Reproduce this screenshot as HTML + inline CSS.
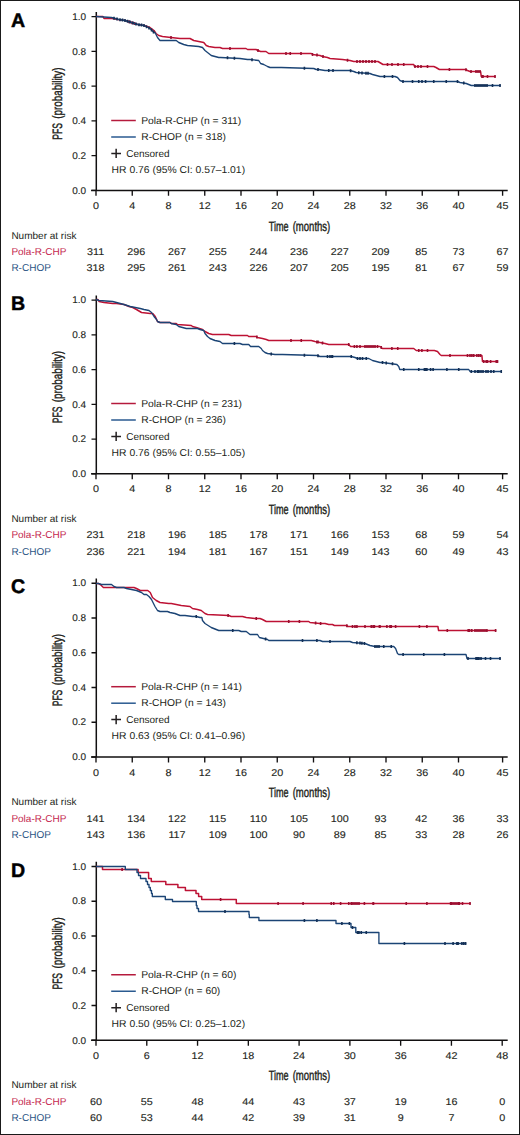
<!DOCTYPE html><html><head><meta charset="utf-8"><style>html,body{margin:0;padding:0;background:#fff;}svg{display:block;}text{font-family:"Liberation Sans",sans-serif;text-rendering:geometricPrecision;}</style></head><body>
<svg width="520" height="1135" viewBox="0 0 520 1135">
<rect x="0" y="0" width="520" height="1135" fill="#fff"/>
<text x="10.9" y="27" font-size="19.6" font-weight="bold" fill="#000" stroke="#000" stroke-width="0.45">A</text>
<path d="M96.3 12V191.1M91.1 190.4H507.7" stroke="#121011" stroke-width="1.5" fill="none"/>
<path d="M91.5 16.6H96M91.5 51.36H96M91.5 86.12H96M91.5 120.88H96M91.5 155.64H96M91.5 190.4H96" stroke="#121011" stroke-width="1.35" fill="none"/>
<text transform="translate(86.1 19.85) scale(1.02 1)" text-anchor="end" font-size="9.8" stroke="#231f20" stroke-width="0.12" fill="#231f20">1.0</text>
<text transform="translate(86.1 54.61) scale(1.02 1)" text-anchor="end" font-size="9.8" stroke="#231f20" stroke-width="0.12" fill="#231f20">0.8</text>
<text transform="translate(86.1 89.37) scale(1.02 1)" text-anchor="end" font-size="9.8" stroke="#231f20" stroke-width="0.12" fill="#231f20">0.6</text>
<text transform="translate(86.1 124.13) scale(1.02 1)" text-anchor="end" font-size="9.8" stroke="#231f20" stroke-width="0.12" fill="#231f20">0.4</text>
<text transform="translate(86.1 158.89) scale(1.02 1)" text-anchor="end" font-size="9.8" stroke="#231f20" stroke-width="0.12" fill="#231f20">0.2</text>
<text transform="translate(86.1 193.65) scale(1.02 1)" text-anchor="end" font-size="9.8" stroke="#231f20" stroke-width="0.12" fill="#231f20">0.0</text>
<path d="M96 190.4V195.8M132.25 190.4V195.8M168.5 190.4V195.8M204.75 190.4V195.8M241 190.4V195.8M277.25 190.4V195.8M313.5 190.4V195.8M349.75 190.4V195.8M386 190.4V195.8M422.25 190.4V195.8M458.5 190.4V195.8M502.6 190.4V195.8" stroke="#121011" stroke-width="1.35" fill="none"/>
<text transform="translate(96 209) scale(1.1 1)" text-anchor="middle" font-size="9.8" stroke="#231f20" stroke-width="0.12" fill="#231f20">0</text>
<text transform="translate(132.25 209) scale(1.1 1)" text-anchor="middle" font-size="9.8" stroke="#231f20" stroke-width="0.12" fill="#231f20">4</text>
<text transform="translate(168.5 209) scale(1.1 1)" text-anchor="middle" font-size="9.8" stroke="#231f20" stroke-width="0.12" fill="#231f20">8</text>
<text transform="translate(204.75 209) scale(1.1 1)" text-anchor="middle" font-size="9.8" stroke="#231f20" stroke-width="0.12" fill="#231f20">12</text>
<text transform="translate(241 209) scale(1.1 1)" text-anchor="middle" font-size="9.8" stroke="#231f20" stroke-width="0.12" fill="#231f20">16</text>
<text transform="translate(277.25 209) scale(1.1 1)" text-anchor="middle" font-size="9.8" stroke="#231f20" stroke-width="0.12" fill="#231f20">20</text>
<text transform="translate(313.5 209) scale(1.1 1)" text-anchor="middle" font-size="9.8" stroke="#231f20" stroke-width="0.12" fill="#231f20">24</text>
<text transform="translate(349.75 209) scale(1.1 1)" text-anchor="middle" font-size="9.8" stroke="#231f20" stroke-width="0.12" fill="#231f20">28</text>
<text transform="translate(386 209) scale(1.1 1)" text-anchor="middle" font-size="9.8" stroke="#231f20" stroke-width="0.12" fill="#231f20">32</text>
<text transform="translate(422.25 209) scale(1.1 1)" text-anchor="middle" font-size="9.8" stroke="#231f20" stroke-width="0.12" fill="#231f20">36</text>
<text transform="translate(458.5 209) scale(1.1 1)" text-anchor="middle" font-size="9.8" stroke="#231f20" stroke-width="0.12" fill="#231f20">40</text>
<text transform="translate(502.6 209) scale(1.1 1)" text-anchor="middle" font-size="9.8" stroke="#231f20" stroke-width="0.12" fill="#231f20">45</text>
<text x="268.8" y="230.6" font-size="13.6" fill="#231f20" stroke="#231f20" stroke-width="0.42" textLength="19.8" lengthAdjust="spacingAndGlyphs">Time</text>
<text x="292.7" y="230.6" font-size="13.6" fill="#231f20" stroke="#231f20" stroke-width="0.42" textLength="37.6" lengthAdjust="spacingAndGlyphs">(months)</text>
<text transform="translate(62.4 139.7) rotate(-90)" x="0" y="0" font-size="13.6" fill="#231f20" stroke="#231f20" stroke-width="0.42" textLength="16.6" lengthAdjust="spacingAndGlyphs">PFS</text>
<text transform="translate(62.4 118.7) rotate(-90)" x="0" y="0" font-size="13.6" fill="#231f20" stroke="#231f20" stroke-width="0.42" textLength="51.2" lengthAdjust="spacingAndGlyphs">(probability)</text>
<path d="M111.2 120.5H135.8" stroke="#b51a3c" stroke-width="1.5"/>
<text transform="translate(141.2 123.5) scale(1.03 1)" font-size="10" fill="#231f20">Pola-R-CHP (n = 311)</text>
<path d="M111.2 137H135.8" stroke="#2a5a90" stroke-width="1.5"/>
<text transform="translate(141.2 139.6) scale(1.03 1)" font-size="10" fill="#231f20">R-CHOP (n = 318)</text>
<path d="M111.3 153.4H121M116.15 148.7V158.1" stroke="#231f20" stroke-width="1.5"/>
<text x="126.2" y="156.6" font-size="10" fill="#231f20">Censored</text>
<text transform="translate(111.6 172.75) scale(1.035 1)" font-size="10" fill="#231f20">HR 0.76 (95% CI: 0.57–1.01)</text>
<text x="11.4" y="238.5" font-size="10" fill="#231f20">Number at risk</text>
<text x="11.4" y="254.9" font-size="10" fill="#c5284f">Pola-R-CHP</text>
<text x="11.4" y="271.2" font-size="10" fill="#2d5584">R-CHOP</text>
<text transform="translate(95.6 254.9) scale(1.1 1)" text-anchor="middle" font-size="9.8" stroke="#231f20" stroke-width="0.12" fill="#231f20">311</text>
<text transform="translate(95.6 271.2) scale(1.1 1)" text-anchor="middle" font-size="9.8" stroke="#231f20" stroke-width="0.12" fill="#231f20">318</text>
<text transform="translate(136.3 254.9) scale(1.1 1)" text-anchor="middle" font-size="9.8" stroke="#231f20" stroke-width="0.12" fill="#231f20">296</text>
<text transform="translate(136.3 271.2) scale(1.1 1)" text-anchor="middle" font-size="9.8" stroke="#231f20" stroke-width="0.12" fill="#231f20">295</text>
<text transform="translate(177 254.9) scale(1.1 1)" text-anchor="middle" font-size="9.8" stroke="#231f20" stroke-width="0.12" fill="#231f20">267</text>
<text transform="translate(177 271.2) scale(1.1 1)" text-anchor="middle" font-size="9.8" stroke="#231f20" stroke-width="0.12" fill="#231f20">261</text>
<text transform="translate(217.7 254.9) scale(1.1 1)" text-anchor="middle" font-size="9.8" stroke="#231f20" stroke-width="0.12" fill="#231f20">255</text>
<text transform="translate(217.7 271.2) scale(1.1 1)" text-anchor="middle" font-size="9.8" stroke="#231f20" stroke-width="0.12" fill="#231f20">243</text>
<text transform="translate(258.4 254.9) scale(1.1 1)" text-anchor="middle" font-size="9.8" stroke="#231f20" stroke-width="0.12" fill="#231f20">244</text>
<text transform="translate(258.4 271.2) scale(1.1 1)" text-anchor="middle" font-size="9.8" stroke="#231f20" stroke-width="0.12" fill="#231f20">226</text>
<text transform="translate(299.1 254.9) scale(1.1 1)" text-anchor="middle" font-size="9.8" stroke="#231f20" stroke-width="0.12" fill="#231f20">236</text>
<text transform="translate(299.1 271.2) scale(1.1 1)" text-anchor="middle" font-size="9.8" stroke="#231f20" stroke-width="0.12" fill="#231f20">207</text>
<text transform="translate(339.8 254.9) scale(1.1 1)" text-anchor="middle" font-size="9.8" stroke="#231f20" stroke-width="0.12" fill="#231f20">227</text>
<text transform="translate(339.8 271.2) scale(1.1 1)" text-anchor="middle" font-size="9.8" stroke="#231f20" stroke-width="0.12" fill="#231f20">205</text>
<text transform="translate(380.5 254.9) scale(1.1 1)" text-anchor="middle" font-size="9.8" stroke="#231f20" stroke-width="0.12" fill="#231f20">209</text>
<text transform="translate(380.5 271.2) scale(1.1 1)" text-anchor="middle" font-size="9.8" stroke="#231f20" stroke-width="0.12" fill="#231f20">195</text>
<text transform="translate(421.2 254.9) scale(1.1 1)" text-anchor="middle" font-size="9.8" stroke="#231f20" stroke-width="0.12" fill="#231f20">85</text>
<text transform="translate(421.2 271.2) scale(1.1 1)" text-anchor="middle" font-size="9.8" stroke="#231f20" stroke-width="0.12" fill="#231f20">81</text>
<text transform="translate(458.6 254.9) scale(1.1 1)" text-anchor="middle" font-size="9.8" stroke="#231f20" stroke-width="0.12" fill="#231f20">73</text>
<text transform="translate(458.6 271.2) scale(1.1 1)" text-anchor="middle" font-size="9.8" stroke="#231f20" stroke-width="0.12" fill="#231f20">67</text>
<text transform="translate(502.6 254.9) scale(1.1 1)" text-anchor="middle" font-size="9.8" stroke="#231f20" stroke-width="0.12" fill="#231f20">67</text>
<text transform="translate(502.6 271.2) scale(1.1 1)" text-anchor="middle" font-size="9.8" stroke="#231f20" stroke-width="0.12" fill="#231f20">59</text>
<path d="M96 16.5 L103 16.5 L104 18.5 L112 18.5 L118 19.5 L125 20.5 L131 22.5 L138 24.5 L144 25.5 L150 27.5 L154 30.5 L156 33.5 L158.75 35.5 L162.5 36.5 L171 37.5 L180 38.5 L190 38.5 L193.75 40.5 L198.75 41.5 L203.75 42.5 L206.25 45.5 L208.75 46.5 L215 47.5 L220 47.5 L222.5 48.5 L246 48.5 L247.5 49.5 L256 49.5 L258 50.5 L260.6 51.5 L266 51.5 L268.75 53.5 L311 53.5 L311.25 53.5 L312.5 54.5 L320 55.5 L322.5 56.5 L327.5 57.5 L330 58.5 L342.5 59.5 L350 60.5 L353.75 61.5 L378 61.5 L383 64.5 L413.75 64.5 L414.5 66.5 L433.75 66.5 L436 67.5 L439.4 69.5 L465.6 69.5 L467.5 70.5 L470 71.5 L480.6 71.5 L481.25 76.5 L495.6 76.5" stroke="#bd1234" stroke-width="1.5" fill="none" stroke-linejoin="round"/>
<path d="M129 20.33V23.33M132 21.29V24.29M134.5 22V25M171 36V39M230 47V50M258 49V52M286 52V55M290.25 52V55M301 52V55M312.5 53V56M317 53.6V56.6M323 55.1V58.1M347.5 58.67V61.67M357 60V63M360 60V63M363 60V63M366 60V63M369 60V63M372 60V63M375 60V63M387.5 63V66M392 63V66M398 63V66M403.75 63V66M415 65V68M418 65V68M421 65V68M427.5 65V68M449.4 68V71M466 68.21V71.21M471 70V73M476 70V73M478 70V73M480 70V73M482 75V78M483 75V78M487.5 75V78M495 75V78" stroke="#9a0f30" stroke-width="1.6" fill="none"/>
<path d="M96 16.5 L111.5 17.5 L119 19.5 L125 20.5 L131.5 22.5 L137.75 24.5 L144 25.5 L150 28.5 L154 32.5 L155 32.5 L157.5 37.5 L160 40.5 L167.5 40.5 L176.25 40.5 L178.75 42.5 L183.75 44.5 L187.5 45.5 L198.75 46.5 L202.5 47.5 L205 50.5 L208.75 53.5 L211.25 55.5 L215 56.5 L218.75 57.5 L220.6 57.5 L240 58.5 L247.5 59.5 L250 59.5 L258.75 60.5 L260.6 63.5 L263.75 64.5 L267.5 66.5 L270 67.5 L275 67.5 L281.25 67.5 L313.75 68.5 L316.25 69.5 L318.75 69.5 L325 70.5 L326.25 70.5 L350 70.5 L353.75 71.5 L356.25 72.5 L370 73.5 L372.5 74.5 L376.25 75.5 L380 76.5 L385 76.5 L395 76.5 L397.5 77.5 L400 80.5 L402.5 81.5 L457.5 81.5 L460 82.5 L466.25 83.5 L468.75 84.5 L471.25 85.5 L500.6 85.5" stroke="#1b4475" stroke-width="1.35" fill="none" stroke-linejoin="round"/>
<path d="M114 16.67V19.67M117 17.47V20.47M120 18.17V21.17M122.5 18.58V21.58M125 19V22M127.5 19.77V22.77M130 20.54V23.54M133 21.48V24.48M136 22.44V25.44M139 23.2V26.2M141.5 23.6V26.6M144 24V27M146.5 25.25V28.25M149 26.5V29.5M151.5 28.5V31.5M153.5 30.5V33.5M227.5 56.36V59.36M234.4 56.71V59.71M252 58.23V61.23M304.4 66.71V69.71M318 68V71M328.75 69V72M333 69V72M350.6 69.16V72.16M358.75 71.18V74.18M362 71.42V74.42M366 71.71V74.71M368 71.85V74.85M384.4 75V78M392.5 75V78M403 80V83M412.5 80V83M418.75 80V83M422 80V83M425.6 80V83M433.75 80V83M446.25 80V83M457.5 80V83M463.75 81.6V84.6M475 84V87M477 84V87M479 84V87M481 84V87M483 84V87M485 84V87M487 84V87M492.5 84V87M500 84V87" stroke="#132f55" stroke-width="1.6" fill="none"/>
<text x="10.9" y="310.25" font-size="19.6" font-weight="bold" fill="#000" stroke="#000" stroke-width="0.45">B</text>
<path d="M96.3 295.45V474.55M91.1 473.85H507.7" stroke="#121011" stroke-width="1.5" fill="none"/>
<path d="M91.5 300.05H96M91.5 334.81H96M91.5 369.57H96M91.5 404.33H96M91.5 439.09H96M91.5 473.85H96" stroke="#121011" stroke-width="1.35" fill="none"/>
<text transform="translate(86.1 303.3) scale(1.02 1)" text-anchor="end" font-size="9.8" stroke="#231f20" stroke-width="0.12" fill="#231f20">1.0</text>
<text transform="translate(86.1 338.06) scale(1.02 1)" text-anchor="end" font-size="9.8" stroke="#231f20" stroke-width="0.12" fill="#231f20">0.8</text>
<text transform="translate(86.1 372.82) scale(1.02 1)" text-anchor="end" font-size="9.8" stroke="#231f20" stroke-width="0.12" fill="#231f20">0.6</text>
<text transform="translate(86.1 407.58) scale(1.02 1)" text-anchor="end" font-size="9.8" stroke="#231f20" stroke-width="0.12" fill="#231f20">0.4</text>
<text transform="translate(86.1 442.34) scale(1.02 1)" text-anchor="end" font-size="9.8" stroke="#231f20" stroke-width="0.12" fill="#231f20">0.2</text>
<text transform="translate(86.1 477.1) scale(1.02 1)" text-anchor="end" font-size="9.8" stroke="#231f20" stroke-width="0.12" fill="#231f20">0.0</text>
<path d="M96 473.85V479.25M132.25 473.85V479.25M168.5 473.85V479.25M204.75 473.85V479.25M241 473.85V479.25M277.25 473.85V479.25M313.5 473.85V479.25M349.75 473.85V479.25M386 473.85V479.25M422.25 473.85V479.25M458.5 473.85V479.25M502.6 473.85V479.25" stroke="#121011" stroke-width="1.35" fill="none"/>
<text transform="translate(96 492.45) scale(1.1 1)" text-anchor="middle" font-size="9.8" stroke="#231f20" stroke-width="0.12" fill="#231f20">0</text>
<text transform="translate(132.25 492.45) scale(1.1 1)" text-anchor="middle" font-size="9.8" stroke="#231f20" stroke-width="0.12" fill="#231f20">4</text>
<text transform="translate(168.5 492.45) scale(1.1 1)" text-anchor="middle" font-size="9.8" stroke="#231f20" stroke-width="0.12" fill="#231f20">8</text>
<text transform="translate(204.75 492.45) scale(1.1 1)" text-anchor="middle" font-size="9.8" stroke="#231f20" stroke-width="0.12" fill="#231f20">12</text>
<text transform="translate(241 492.45) scale(1.1 1)" text-anchor="middle" font-size="9.8" stroke="#231f20" stroke-width="0.12" fill="#231f20">16</text>
<text transform="translate(277.25 492.45) scale(1.1 1)" text-anchor="middle" font-size="9.8" stroke="#231f20" stroke-width="0.12" fill="#231f20">20</text>
<text transform="translate(313.5 492.45) scale(1.1 1)" text-anchor="middle" font-size="9.8" stroke="#231f20" stroke-width="0.12" fill="#231f20">24</text>
<text transform="translate(349.75 492.45) scale(1.1 1)" text-anchor="middle" font-size="9.8" stroke="#231f20" stroke-width="0.12" fill="#231f20">28</text>
<text transform="translate(386 492.45) scale(1.1 1)" text-anchor="middle" font-size="9.8" stroke="#231f20" stroke-width="0.12" fill="#231f20">32</text>
<text transform="translate(422.25 492.45) scale(1.1 1)" text-anchor="middle" font-size="9.8" stroke="#231f20" stroke-width="0.12" fill="#231f20">36</text>
<text transform="translate(458.5 492.45) scale(1.1 1)" text-anchor="middle" font-size="9.8" stroke="#231f20" stroke-width="0.12" fill="#231f20">40</text>
<text transform="translate(502.6 492.45) scale(1.1 1)" text-anchor="middle" font-size="9.8" stroke="#231f20" stroke-width="0.12" fill="#231f20">45</text>
<text x="268.8" y="514.05" font-size="13.6" fill="#231f20" stroke="#231f20" stroke-width="0.42" textLength="19.8" lengthAdjust="spacingAndGlyphs">Time</text>
<text x="292.7" y="514.05" font-size="13.6" fill="#231f20" stroke="#231f20" stroke-width="0.42" textLength="37.6" lengthAdjust="spacingAndGlyphs">(months)</text>
<text transform="translate(62.4 423.15) rotate(-90)" x="0" y="0" font-size="13.6" fill="#231f20" stroke="#231f20" stroke-width="0.42" textLength="16.6" lengthAdjust="spacingAndGlyphs">PFS</text>
<text transform="translate(62.4 402.15) rotate(-90)" x="0" y="0" font-size="13.6" fill="#231f20" stroke="#231f20" stroke-width="0.42" textLength="51.2" lengthAdjust="spacingAndGlyphs">(probability)</text>
<path d="M111.2 403.5H135.8" stroke="#b51a3c" stroke-width="1.5"/>
<text transform="translate(141.2 406.5) scale(1.03 1)" font-size="10" fill="#231f20">Pola-R-CHP (n = 231)</text>
<path d="M111.2 420H135.8" stroke="#2a5a90" stroke-width="1.5"/>
<text transform="translate(141.2 422.6) scale(1.03 1)" font-size="10" fill="#231f20">R-CHOP (n = 236)</text>
<path d="M111.3 436.4H121M116.15 431.7V441.1" stroke="#231f20" stroke-width="1.5"/>
<text x="126.2" y="439.6" font-size="10" fill="#231f20">Censored</text>
<text transform="translate(111.6 455.75) scale(1.035 1)" font-size="10" fill="#231f20">HR 0.76 (95% CI: 0.55–1.05)</text>
<text x="11.4" y="521.95" font-size="10" fill="#231f20">Number at risk</text>
<text x="11.4" y="538.35" font-size="10" fill="#c5284f">Pola-R-CHP</text>
<text x="11.4" y="554.65" font-size="10" fill="#2d5584">R-CHOP</text>
<text transform="translate(95.6 538.35) scale(1.1 1)" text-anchor="middle" font-size="9.8" stroke="#231f20" stroke-width="0.12" fill="#231f20">231</text>
<text transform="translate(95.6 554.65) scale(1.1 1)" text-anchor="middle" font-size="9.8" stroke="#231f20" stroke-width="0.12" fill="#231f20">236</text>
<text transform="translate(136.3 538.35) scale(1.1 1)" text-anchor="middle" font-size="9.8" stroke="#231f20" stroke-width="0.12" fill="#231f20">218</text>
<text transform="translate(136.3 554.65) scale(1.1 1)" text-anchor="middle" font-size="9.8" stroke="#231f20" stroke-width="0.12" fill="#231f20">221</text>
<text transform="translate(177 538.35) scale(1.1 1)" text-anchor="middle" font-size="9.8" stroke="#231f20" stroke-width="0.12" fill="#231f20">196</text>
<text transform="translate(177 554.65) scale(1.1 1)" text-anchor="middle" font-size="9.8" stroke="#231f20" stroke-width="0.12" fill="#231f20">194</text>
<text transform="translate(217.7 538.35) scale(1.1 1)" text-anchor="middle" font-size="9.8" stroke="#231f20" stroke-width="0.12" fill="#231f20">185</text>
<text transform="translate(217.7 554.65) scale(1.1 1)" text-anchor="middle" font-size="9.8" stroke="#231f20" stroke-width="0.12" fill="#231f20">181</text>
<text transform="translate(258.4 538.35) scale(1.1 1)" text-anchor="middle" font-size="9.8" stroke="#231f20" stroke-width="0.12" fill="#231f20">178</text>
<text transform="translate(258.4 554.65) scale(1.1 1)" text-anchor="middle" font-size="9.8" stroke="#231f20" stroke-width="0.12" fill="#231f20">167</text>
<text transform="translate(299.1 538.35) scale(1.1 1)" text-anchor="middle" font-size="9.8" stroke="#231f20" stroke-width="0.12" fill="#231f20">171</text>
<text transform="translate(299.1 554.65) scale(1.1 1)" text-anchor="middle" font-size="9.8" stroke="#231f20" stroke-width="0.12" fill="#231f20">151</text>
<text transform="translate(339.8 538.35) scale(1.1 1)" text-anchor="middle" font-size="9.8" stroke="#231f20" stroke-width="0.12" fill="#231f20">166</text>
<text transform="translate(339.8 554.65) scale(1.1 1)" text-anchor="middle" font-size="9.8" stroke="#231f20" stroke-width="0.12" fill="#231f20">149</text>
<text transform="translate(380.5 538.35) scale(1.1 1)" text-anchor="middle" font-size="9.8" stroke="#231f20" stroke-width="0.12" fill="#231f20">153</text>
<text transform="translate(380.5 554.65) scale(1.1 1)" text-anchor="middle" font-size="9.8" stroke="#231f20" stroke-width="0.12" fill="#231f20">143</text>
<text transform="translate(421.2 538.35) scale(1.1 1)" text-anchor="middle" font-size="9.8" stroke="#231f20" stroke-width="0.12" fill="#231f20">68</text>
<text transform="translate(421.2 554.65) scale(1.1 1)" text-anchor="middle" font-size="9.8" stroke="#231f20" stroke-width="0.12" fill="#231f20">60</text>
<text transform="translate(458.6 538.35) scale(1.1 1)" text-anchor="middle" font-size="9.8" stroke="#231f20" stroke-width="0.12" fill="#231f20">59</text>
<text transform="translate(458.6 554.65) scale(1.1 1)" text-anchor="middle" font-size="9.8" stroke="#231f20" stroke-width="0.12" fill="#231f20">49</text>
<text transform="translate(502.6 538.35) scale(1.1 1)" text-anchor="middle" font-size="9.8" stroke="#231f20" stroke-width="0.12" fill="#231f20">54</text>
<text transform="translate(502.6 554.65) scale(1.1 1)" text-anchor="middle" font-size="9.8" stroke="#231f20" stroke-width="0.12" fill="#231f20">43</text>
<path d="M96 299.5 L98 299.5 L99 301.5 L104 302.5 L112.75 303.5 L116.5 303.5 L124 304.5 L129 306.5 L132.75 307.5 L136.5 309.5 L141.5 312.5 L150.25 313.5 L152.75 313.5 L155.25 316.5 L157.5 321.5 L160 322.5 L170 322.5 L171.25 323.5 L176.25 323.5 L177.5 324.5 L191.25 325.5 L192.5 326.5 L196.25 327.5 L202.5 329.5 L205 331.5 L208.75 333.5 L212.5 334.5 L220 334.5 L228.75 334.5 L231.25 335.5 L247.5 335.5 L248.75 336.5 L256.25 336.5 L257.5 337.5 L262.5 338.5 L266.25 339.5 L268.75 340.5 L311.25 340.5 L315 341.5 L320 342.5 L325 343.5 L328.75 344.5 L333.75 344.5 L348.75 344.5 L350.6 346.5 L352.5 346.5 L380 346.5 L382.5 348.5 L390 348.5 L413.75 348.5 L416.25 350.5 L434.4 350.5 L437.5 351.5 L440 354.5 L441.25 355.5 L481.9 355.5 L482.5 361.5 L498.1 361.5" stroke="#bd1234" stroke-width="1.5" fill="none" stroke-linejoin="round"/>
<path d="M256.9 335.52V338.52M291 339V342M301.25 339V342M316.9 340.38V343.38M318 340.6V343.6M322.5 341.5V344.5M348.75 343V346M354.4 345V348M356.9 345V348M360 345V348M365 345V348M367 345V348M369 345V348M371 345V348M373 345V348M375 345V348M377.5 345V348M381.25 346V349M391.9 347V350M397.75 347V350M418.75 349V352M421.9 349V352M427.5 349V352M450 354V357M467.5 354V357M470 354V357M471.9 354V357M473.75 354V357M476.9 354V357M478.75 354V357M480.6 354V357M483.75 360V363M486.25 360V363M487.5 360V363M490.6 360V363M496.25 360V363M497.5 360V363" stroke="#9a0f30" stroke-width="1.6" fill="none"/>
<path d="M96 299.5 L99 300.5 L112.75 301.5 L116.5 302.5 L124 304.5 L130.25 306.5 L135.25 307.5 L140.25 308.5 L144 309.5 L149 310.5 L151.5 312.5 L154 316.5 L156.5 319.5 L157.5 321.5 L160 322.5 L170 322.5 L171.25 323.5 L176.25 324.5 L178.75 326.5 L182.5 327.5 L186.25 328.5 L195 328.5 L197.5 328.5 L200 329.5 L203.75 330.5 L205 333.5 L207.5 336.5 L210 338.5 L212.5 339.5 L215 340.5 L220 341.5 L222.5 343.5 L240 343.5 L242.5 344.5 L248.75 344.5 L250.6 346.5 L252.5 346.5 L258.75 346.5 L261.25 348.5 L262.5 350.5 L265 352.5 L267.5 353.5 L275 354.5 L282.5 354.5 L317.5 355.5 L320 356.5 L335 356.5 L351.25 356.5 L355 357.5 L357.5 358.5 L365 358.5 L368.75 358.5 L372.5 360.5 L376.25 361.5 L380 362.5 L382.5 362.5 L390 363.5 L396.9 364.5 L398.75 366.5 L399.75 369.5 L468.75 369.5 L470 371.5 L501.25 371.5" stroke="#1b4475" stroke-width="1.35" fill="none" stroke-linejoin="round"/>
<path d="M234.4 342V345M271.25 352.5V355.5M304.4 353.63V356.63M318 354.2V357.2M327.5 355V358M330 355V358M332.5 355V358M331.9 355V358M351.25 355V358M357.5 357V360M360 357V360M362.5 357V360M366.25 357V360M382.5 361V364M386.25 361.5V364.5M392.5 362.36V365.36M403.75 368V371M418.75 368V371M424.4 368V371M425.6 368V371M426.9 368V371M430.6 368V371M433.1 368V371M446.9 368V371M458.75 368V371M471.25 370V373M475 370V373M477.5 370V373M479 370V373M481 370V373M483 370V373M486 370V373M488 370V373M491 370V373M493.75 370V373M501.25 370V373" stroke="#132f55" stroke-width="1.6" fill="none"/>
<text x="10.9" y="593.4" font-size="19.6" font-weight="bold" fill="#000" stroke="#000" stroke-width="0.45">C</text>
<path d="M96.3 578.6V757.7M91.1 757H507.7" stroke="#121011" stroke-width="1.5" fill="none"/>
<path d="M91.5 583.2H96M91.5 617.96H96M91.5 652.72H96M91.5 687.48H96M91.5 722.24H96M91.5 757H96" stroke="#121011" stroke-width="1.35" fill="none"/>
<text transform="translate(86.1 586.45) scale(1.02 1)" text-anchor="end" font-size="9.8" stroke="#231f20" stroke-width="0.12" fill="#231f20">1.0</text>
<text transform="translate(86.1 621.21) scale(1.02 1)" text-anchor="end" font-size="9.8" stroke="#231f20" stroke-width="0.12" fill="#231f20">0.8</text>
<text transform="translate(86.1 655.97) scale(1.02 1)" text-anchor="end" font-size="9.8" stroke="#231f20" stroke-width="0.12" fill="#231f20">0.6</text>
<text transform="translate(86.1 690.73) scale(1.02 1)" text-anchor="end" font-size="9.8" stroke="#231f20" stroke-width="0.12" fill="#231f20">0.4</text>
<text transform="translate(86.1 725.49) scale(1.02 1)" text-anchor="end" font-size="9.8" stroke="#231f20" stroke-width="0.12" fill="#231f20">0.2</text>
<text transform="translate(86.1 760.25) scale(1.02 1)" text-anchor="end" font-size="9.8" stroke="#231f20" stroke-width="0.12" fill="#231f20">0.0</text>
<path d="M96 757V762.4M132.25 757V762.4M168.5 757V762.4M204.75 757V762.4M241 757V762.4M277.25 757V762.4M313.5 757V762.4M349.75 757V762.4M386 757V762.4M422.25 757V762.4M458.5 757V762.4M502.6 757V762.4" stroke="#121011" stroke-width="1.35" fill="none"/>
<text transform="translate(96 775.6) scale(1.1 1)" text-anchor="middle" font-size="9.8" stroke="#231f20" stroke-width="0.12" fill="#231f20">0</text>
<text transform="translate(132.25 775.6) scale(1.1 1)" text-anchor="middle" font-size="9.8" stroke="#231f20" stroke-width="0.12" fill="#231f20">4</text>
<text transform="translate(168.5 775.6) scale(1.1 1)" text-anchor="middle" font-size="9.8" stroke="#231f20" stroke-width="0.12" fill="#231f20">8</text>
<text transform="translate(204.75 775.6) scale(1.1 1)" text-anchor="middle" font-size="9.8" stroke="#231f20" stroke-width="0.12" fill="#231f20">12</text>
<text transform="translate(241 775.6) scale(1.1 1)" text-anchor="middle" font-size="9.8" stroke="#231f20" stroke-width="0.12" fill="#231f20">16</text>
<text transform="translate(277.25 775.6) scale(1.1 1)" text-anchor="middle" font-size="9.8" stroke="#231f20" stroke-width="0.12" fill="#231f20">20</text>
<text transform="translate(313.5 775.6) scale(1.1 1)" text-anchor="middle" font-size="9.8" stroke="#231f20" stroke-width="0.12" fill="#231f20">24</text>
<text transform="translate(349.75 775.6) scale(1.1 1)" text-anchor="middle" font-size="9.8" stroke="#231f20" stroke-width="0.12" fill="#231f20">28</text>
<text transform="translate(386 775.6) scale(1.1 1)" text-anchor="middle" font-size="9.8" stroke="#231f20" stroke-width="0.12" fill="#231f20">32</text>
<text transform="translate(422.25 775.6) scale(1.1 1)" text-anchor="middle" font-size="9.8" stroke="#231f20" stroke-width="0.12" fill="#231f20">36</text>
<text transform="translate(458.5 775.6) scale(1.1 1)" text-anchor="middle" font-size="9.8" stroke="#231f20" stroke-width="0.12" fill="#231f20">40</text>
<text transform="translate(502.6 775.6) scale(1.1 1)" text-anchor="middle" font-size="9.8" stroke="#231f20" stroke-width="0.12" fill="#231f20">45</text>
<text x="268.8" y="797.2" font-size="13.6" fill="#231f20" stroke="#231f20" stroke-width="0.42" textLength="19.8" lengthAdjust="spacingAndGlyphs">Time</text>
<text x="292.7" y="797.2" font-size="13.6" fill="#231f20" stroke="#231f20" stroke-width="0.42" textLength="37.6" lengthAdjust="spacingAndGlyphs">(months)</text>
<text transform="translate(62.4 706.3) rotate(-90)" x="0" y="0" font-size="13.6" fill="#231f20" stroke="#231f20" stroke-width="0.42" textLength="16.6" lengthAdjust="spacingAndGlyphs">PFS</text>
<text transform="translate(62.4 685.3) rotate(-90)" x="0" y="0" font-size="13.6" fill="#231f20" stroke="#231f20" stroke-width="0.42" textLength="51.2" lengthAdjust="spacingAndGlyphs">(probability)</text>
<path d="M111.2 686.7H135.8" stroke="#b51a3c" stroke-width="1.5"/>
<text transform="translate(141.2 689.7) scale(1.03 1)" font-size="10" fill="#231f20">Pola-R-CHP (n = 141)</text>
<path d="M111.2 703.2H135.8" stroke="#2a5a90" stroke-width="1.5"/>
<text transform="translate(141.2 705.8) scale(1.03 1)" font-size="10" fill="#231f20">R-CHOP (n = 143)</text>
<path d="M111.3 719.6H121M116.15 714.9V724.3" stroke="#231f20" stroke-width="1.5"/>
<text x="126.2" y="722.8" font-size="10" fill="#231f20">Censored</text>
<text transform="translate(111.6 738.95) scale(1.035 1)" font-size="10" fill="#231f20">HR 0.63 (95% CI: 0.41–0.96)</text>
<text x="11.4" y="805.1" font-size="10" fill="#231f20">Number at risk</text>
<text x="11.4" y="821.5" font-size="10" fill="#c5284f">Pola-R-CHP</text>
<text x="11.4" y="837.8" font-size="10" fill="#2d5584">R-CHOP</text>
<text transform="translate(95.6 821.5) scale(1.1 1)" text-anchor="middle" font-size="9.8" stroke="#231f20" stroke-width="0.12" fill="#231f20">141</text>
<text transform="translate(95.6 837.8) scale(1.1 1)" text-anchor="middle" font-size="9.8" stroke="#231f20" stroke-width="0.12" fill="#231f20">143</text>
<text transform="translate(136.3 821.5) scale(1.1 1)" text-anchor="middle" font-size="9.8" stroke="#231f20" stroke-width="0.12" fill="#231f20">134</text>
<text transform="translate(136.3 837.8) scale(1.1 1)" text-anchor="middle" font-size="9.8" stroke="#231f20" stroke-width="0.12" fill="#231f20">136</text>
<text transform="translate(177 821.5) scale(1.1 1)" text-anchor="middle" font-size="9.8" stroke="#231f20" stroke-width="0.12" fill="#231f20">122</text>
<text transform="translate(177 837.8) scale(1.1 1)" text-anchor="middle" font-size="9.8" stroke="#231f20" stroke-width="0.12" fill="#231f20">117</text>
<text transform="translate(217.7 821.5) scale(1.1 1)" text-anchor="middle" font-size="9.8" stroke="#231f20" stroke-width="0.12" fill="#231f20">115</text>
<text transform="translate(217.7 837.8) scale(1.1 1)" text-anchor="middle" font-size="9.8" stroke="#231f20" stroke-width="0.12" fill="#231f20">109</text>
<text transform="translate(258.4 821.5) scale(1.1 1)" text-anchor="middle" font-size="9.8" stroke="#231f20" stroke-width="0.12" fill="#231f20">110</text>
<text transform="translate(258.4 837.8) scale(1.1 1)" text-anchor="middle" font-size="9.8" stroke="#231f20" stroke-width="0.12" fill="#231f20">100</text>
<text transform="translate(299.1 821.5) scale(1.1 1)" text-anchor="middle" font-size="9.8" stroke="#231f20" stroke-width="0.12" fill="#231f20">105</text>
<text transform="translate(299.1 837.8) scale(1.1 1)" text-anchor="middle" font-size="9.8" stroke="#231f20" stroke-width="0.12" fill="#231f20">90</text>
<text transform="translate(339.8 821.5) scale(1.1 1)" text-anchor="middle" font-size="9.8" stroke="#231f20" stroke-width="0.12" fill="#231f20">100</text>
<text transform="translate(339.8 837.8) scale(1.1 1)" text-anchor="middle" font-size="9.8" stroke="#231f20" stroke-width="0.12" fill="#231f20">89</text>
<text transform="translate(380.5 821.5) scale(1.1 1)" text-anchor="middle" font-size="9.8" stroke="#231f20" stroke-width="0.12" fill="#231f20">93</text>
<text transform="translate(380.5 837.8) scale(1.1 1)" text-anchor="middle" font-size="9.8" stroke="#231f20" stroke-width="0.12" fill="#231f20">85</text>
<text transform="translate(421.2 821.5) scale(1.1 1)" text-anchor="middle" font-size="9.8" stroke="#231f20" stroke-width="0.12" fill="#231f20">42</text>
<text transform="translate(421.2 837.8) scale(1.1 1)" text-anchor="middle" font-size="9.8" stroke="#231f20" stroke-width="0.12" fill="#231f20">33</text>
<text transform="translate(458.6 821.5) scale(1.1 1)" text-anchor="middle" font-size="9.8" stroke="#231f20" stroke-width="0.12" fill="#231f20">36</text>
<text transform="translate(458.6 837.8) scale(1.1 1)" text-anchor="middle" font-size="9.8" stroke="#231f20" stroke-width="0.12" fill="#231f20">28</text>
<text transform="translate(502.6 821.5) scale(1.1 1)" text-anchor="middle" font-size="9.8" stroke="#231f20" stroke-width="0.12" fill="#231f20">33</text>
<text transform="translate(502.6 837.8) scale(1.1 1)" text-anchor="middle" font-size="9.8" stroke="#231f20" stroke-width="0.12" fill="#231f20">26</text>
<path d="M96 583.5 L98.5 583.5 L100.25 584.5 L103.4 587.5 L112.75 587.5 L115.25 587.5 L134 587.5 L136.5 588.5 L140.25 590.5 L147.75 590.5 L150.25 592.5 L152.5 597.5 L156.25 600.5 L160 602.5 L168.75 603.5 L171.25 603.5 L176.25 604.5 L181.25 605.5 L190 606.5 L192.5 608.5 L197.5 609.5 L201.25 610.5 L203.75 612.5 L205 613.5 L207.5 614.5 L228.75 615.5 L231.25 616.5 L242.5 616.5 L246.25 617.5 L255 618.5 L260 618.5 L262.5 619.5 L266.25 621.5 L308.75 621.5 L310 622.5 L320 623.5 L325 623.5 L328.75 624.5 L332.5 624.5 L334.4 625.5 L346.25 625.5 L348.1 626.5 L437.9 626.5 L438.6 630.5 L496.3 630.5" stroke="#bd1234" stroke-width="1.5" fill="none" stroke-linejoin="round"/>
<path d="M228.1 613.97V616.97M256.25 617V620M288.75 620V623M299.4 620V623M315.6 621.56V624.56M320.6 622V625M346.9 624.35V627.35M352.5 625V628M355 625V628M356.9 625V628M365 625V628M371.25 625V628M373.1 625V628M374.4 625V628M379.4 625V628M380 625V628M386.9 625V628M390 625V628M391.25 625V628M395.6 625V628M419.4 625V628M426.9 625V628M447.3 629V632M468.2 629V632M469.6 629V632M471.8 629V632M475 629V632M477 629V632M479 629V632M481 629V632M483 629V632M485 629V632M486.9 629V632M495.6 629V632" stroke="#9a0f30" stroke-width="1.6" fill="none"/>
<path d="M96 583.5 L98.5 583.5 L101.5 584.5 L111.5 584.5 L114 586.5 L116.5 587.5 L124 587.5 L126.5 588.5 L131.5 589.5 L136.5 590.5 L141.5 592.5 L144 594.5 L146.5 594.5 L149 596.5 L151.5 599.5 L152.5 601.5 L155 606.5 L157.5 610.5 L160 611.5 L167.5 611.5 L170 612.5 L175 613.5 L180 615.5 L185 615.5 L192.5 616.5 L196.25 616.5 L200 617.5 L201.9 617.5 L202.5 620.5 L205 623.5 L211.25 627.5 L216.25 629.5 L218.75 630.5 L238.75 630.5 L241.25 631.5 L246.25 631.5 L248.75 633.5 L250 634.5 L257.5 634.5 L259.4 637.5 L267.5 639.5 L268.75 640.5 L320 640.5 L322.5 641.5 L325 641.5 L350 641.5 L352.5 642.5 L365 643.5 L367.5 644.5 L370 645.5 L375 646.5 L393.75 646.5 L395.6 648.5 L397.5 653.5 L398.75 654.5 L466 654.5 L467 658.5 L500.6 658.5" stroke="#1b4475" stroke-width="1.35" fill="none" stroke-linejoin="round"/>
<path d="M196.25 615V618M232.75 629V632M265.6 637.53V640.53M302.5 639V642M316.9 639V642M330 640V643M356.9 641.35V644.35M360 641.6V644.6M361.9 641.75V644.75M364.4 641.95V644.95M375 645V648M377 645V648M379 645V648M383.75 645V648M391.25 645V648M403.1 653V656M423.75 653V656M444.4 653V656M468 657V660M476 657V660M477.5 657V660M479 657V660M481 657V660M485.5 657V660M490.5 657V660M500 657V660" stroke="#132f55" stroke-width="1.6" fill="none"/>
<text x="10.9" y="876.5" font-size="19.6" font-weight="bold" fill="#000" stroke="#000" stroke-width="0.45">D</text>
<path d="M96.3 861.85V1040.95M91.1 1040.25H507.7" stroke="#121011" stroke-width="1.5" fill="none"/>
<path d="M91.5 866.45H96M91.5 901.21H96M91.5 935.97H96M91.5 970.73H96M91.5 1005.49H96M91.5 1040.25H96" stroke="#121011" stroke-width="1.35" fill="none"/>
<text transform="translate(86.1 869.7) scale(1.02 1)" text-anchor="end" font-size="9.8" stroke="#231f20" stroke-width="0.12" fill="#231f20">1.0</text>
<text transform="translate(86.1 904.46) scale(1.02 1)" text-anchor="end" font-size="9.8" stroke="#231f20" stroke-width="0.12" fill="#231f20">0.8</text>
<text transform="translate(86.1 939.22) scale(1.02 1)" text-anchor="end" font-size="9.8" stroke="#231f20" stroke-width="0.12" fill="#231f20">0.6</text>
<text transform="translate(86.1 973.98) scale(1.02 1)" text-anchor="end" font-size="9.8" stroke="#231f20" stroke-width="0.12" fill="#231f20">0.4</text>
<text transform="translate(86.1 1008.74) scale(1.02 1)" text-anchor="end" font-size="9.8" stroke="#231f20" stroke-width="0.12" fill="#231f20">0.2</text>
<text transform="translate(86.1 1043.5) scale(1.02 1)" text-anchor="end" font-size="9.8" stroke="#231f20" stroke-width="0.12" fill="#231f20">0.0</text>
<path d="M96 1040.25V1045.65M146.78 1040.25V1045.65M197.55 1040.25V1045.65M248.33 1040.25V1045.65M299.1 1040.25V1045.65M349.88 1040.25V1045.65M400.65 1040.25V1045.65M451.43 1040.25V1045.65M502.2 1040.25V1045.65" stroke="#121011" stroke-width="1.35" fill="none"/>
<text transform="translate(96 1058.85) scale(1.1 1)" text-anchor="middle" font-size="9.8" stroke="#231f20" stroke-width="0.12" fill="#231f20">0</text>
<text transform="translate(146.78 1058.85) scale(1.1 1)" text-anchor="middle" font-size="9.8" stroke="#231f20" stroke-width="0.12" fill="#231f20">6</text>
<text transform="translate(197.55 1058.85) scale(1.1 1)" text-anchor="middle" font-size="9.8" stroke="#231f20" stroke-width="0.12" fill="#231f20">12</text>
<text transform="translate(248.33 1058.85) scale(1.1 1)" text-anchor="middle" font-size="9.8" stroke="#231f20" stroke-width="0.12" fill="#231f20">18</text>
<text transform="translate(299.1 1058.85) scale(1.1 1)" text-anchor="middle" font-size="9.8" stroke="#231f20" stroke-width="0.12" fill="#231f20">24</text>
<text transform="translate(349.88 1058.85) scale(1.1 1)" text-anchor="middle" font-size="9.8" stroke="#231f20" stroke-width="0.12" fill="#231f20">30</text>
<text transform="translate(400.65 1058.85) scale(1.1 1)" text-anchor="middle" font-size="9.8" stroke="#231f20" stroke-width="0.12" fill="#231f20">36</text>
<text transform="translate(451.43 1058.85) scale(1.1 1)" text-anchor="middle" font-size="9.8" stroke="#231f20" stroke-width="0.12" fill="#231f20">42</text>
<text transform="translate(502.2 1058.85) scale(1.1 1)" text-anchor="middle" font-size="9.8" stroke="#231f20" stroke-width="0.12" fill="#231f20">48</text>
<text x="268.8" y="1080.45" font-size="13.6" fill="#231f20" stroke="#231f20" stroke-width="0.42" textLength="19.8" lengthAdjust="spacingAndGlyphs">Time</text>
<text x="292.7" y="1080.45" font-size="13.6" fill="#231f20" stroke="#231f20" stroke-width="0.42" textLength="37.6" lengthAdjust="spacingAndGlyphs">(months)</text>
<text transform="translate(62.4 989.55) rotate(-90)" x="0" y="0" font-size="13.6" fill="#231f20" stroke="#231f20" stroke-width="0.42" textLength="16.6" lengthAdjust="spacingAndGlyphs">PFS</text>
<text transform="translate(62.4 968.55) rotate(-90)" x="0" y="0" font-size="13.6" fill="#231f20" stroke="#231f20" stroke-width="0.42" textLength="51.2" lengthAdjust="spacingAndGlyphs">(probability)</text>
<path d="M111.2 974.75H135.8" stroke="#b51a3c" stroke-width="1.5"/>
<text transform="translate(141.2 977.75) scale(1.03 1)" font-size="10" fill="#231f20">Pola-R-CHP (n = 60)</text>
<path d="M111.2 991.25H135.8" stroke="#2a5a90" stroke-width="1.5"/>
<text transform="translate(141.2 993.85) scale(1.03 1)" font-size="10" fill="#231f20">R-CHOP (n = 60)</text>
<path d="M111.3 1007.65H121M116.15 1002.95V1012.35" stroke="#231f20" stroke-width="1.5"/>
<text x="126.2" y="1010.85" font-size="10" fill="#231f20">Censored</text>
<text transform="translate(111.6 1027) scale(1.035 1)" font-size="10" fill="#231f20">HR 0.50 (95% CI: 0.25–1.02)</text>
<text x="11.4" y="1088.35" font-size="10" fill="#231f20">Number at risk</text>
<text x="11.4" y="1104.75" font-size="10" fill="#c5284f">Pola-R-CHP</text>
<text x="11.4" y="1121.05" font-size="10" fill="#2d5584">R-CHOP</text>
<text transform="translate(96 1104.75) scale(1.1 1)" text-anchor="middle" font-size="9.8" stroke="#231f20" stroke-width="0.12" fill="#231f20">60</text>
<text transform="translate(96 1121.05) scale(1.1 1)" text-anchor="middle" font-size="9.8" stroke="#231f20" stroke-width="0.12" fill="#231f20">60</text>
<text transform="translate(146.78 1104.75) scale(1.1 1)" text-anchor="middle" font-size="9.8" stroke="#231f20" stroke-width="0.12" fill="#231f20">55</text>
<text transform="translate(146.78 1121.05) scale(1.1 1)" text-anchor="middle" font-size="9.8" stroke="#231f20" stroke-width="0.12" fill="#231f20">53</text>
<text transform="translate(197.55 1104.75) scale(1.1 1)" text-anchor="middle" font-size="9.8" stroke="#231f20" stroke-width="0.12" fill="#231f20">48</text>
<text transform="translate(197.55 1121.05) scale(1.1 1)" text-anchor="middle" font-size="9.8" stroke="#231f20" stroke-width="0.12" fill="#231f20">44</text>
<text transform="translate(248.33 1104.75) scale(1.1 1)" text-anchor="middle" font-size="9.8" stroke="#231f20" stroke-width="0.12" fill="#231f20">44</text>
<text transform="translate(248.33 1121.05) scale(1.1 1)" text-anchor="middle" font-size="9.8" stroke="#231f20" stroke-width="0.12" fill="#231f20">42</text>
<text transform="translate(299.1 1104.75) scale(1.1 1)" text-anchor="middle" font-size="9.8" stroke="#231f20" stroke-width="0.12" fill="#231f20">43</text>
<text transform="translate(299.1 1121.05) scale(1.1 1)" text-anchor="middle" font-size="9.8" stroke="#231f20" stroke-width="0.12" fill="#231f20">39</text>
<text transform="translate(349.88 1104.75) scale(1.1 1)" text-anchor="middle" font-size="9.8" stroke="#231f20" stroke-width="0.12" fill="#231f20">37</text>
<text transform="translate(349.88 1121.05) scale(1.1 1)" text-anchor="middle" font-size="9.8" stroke="#231f20" stroke-width="0.12" fill="#231f20">31</text>
<text transform="translate(400.65 1104.75) scale(1.1 1)" text-anchor="middle" font-size="9.8" stroke="#231f20" stroke-width="0.12" fill="#231f20">19</text>
<text transform="translate(400.65 1121.05) scale(1.1 1)" text-anchor="middle" font-size="9.8" stroke="#231f20" stroke-width="0.12" fill="#231f20">9</text>
<text transform="translate(451.43 1104.75) scale(1.1 1)" text-anchor="middle" font-size="9.8" stroke="#231f20" stroke-width="0.12" fill="#231f20">16</text>
<text transform="translate(451.43 1121.05) scale(1.1 1)" text-anchor="middle" font-size="9.8" stroke="#231f20" stroke-width="0.12" fill="#231f20">7</text>
<text transform="translate(502.2 1104.75) scale(1.1 1)" text-anchor="middle" font-size="9.8" stroke="#231f20" stroke-width="0.12" fill="#231f20">0</text>
<text transform="translate(502.2 1121.05) scale(1.1 1)" text-anchor="middle" font-size="9.8" stroke="#231f20" stroke-width="0.12" fill="#231f20">0</text>
<path d="M96 866.5 L102.5 866.5 L102.5 869.5 L138.1 869.5 L138.1 872.5 L148.6 872.5 L148.6 878.5 L151.3 878.5 L151.3 881.5 L165.8 881.5 L165.8 884.5 L177.9 884.5 L177.9 887.5 L185.4 887.5 L185.4 890.5 L196 890.5 L196 893.5 L198.6 893.5 L198.6 896.5 L201.7 896.5 L201.7 899.5 L236.3 899.5 L236.3 903.5 L470.6 903.5" stroke="#bd1234" stroke-width="1.5" fill="none" stroke-linejoin="round"/>
<path d="M122.1 868V871M220.6 898V901M278.1 902V905M303.1 902V905M331.25 902V905M333.75 902V905M340.6 902V905M348.75 902V905M351.25 902V905M353 902V905M355 902V905M357 902V905M359 902V905M364.4 902V905M373.1 902V905M373.5 902V905M406.25 902V905M426.9 902V905M450.6 902V905M452 902V905M454 902V905M456 902V905M458 902V905M459.4 902V905M462.5 902V905M470 902V905" stroke="#9a0f30" stroke-width="1.6" fill="none"/>
<path d="M96 866.5 L125.3 866.5 L125.3 869.5 L137 869.5 L137 872.5 L138.5 872.5 L138.5 875.5 L140.5 875.5 L140.5 878.5 L146 878.5 L146 881.5 L147.5 881.5 L147.5 884.5 L149 884.5 L149 887.5 L150.3 887.5 L150.3 890.5 L151.5 890.5 L151.5 893.5 L152.3 893.5 L152.3 896.5 L165.3 896.5 L165.3 899.5 L172.5 899.5 L172.5 901.5 L196.3 901.5 L196.3 905.5 L197 905.5 L197 908.5 L198.5 908.5 L198.5 911.5 L249 911.5 L249 914.5 L249.3 914.5 L249.3 917.5 L258.9 917.5 L258.9 920.5 L336 920.5 L336 923.5 L351 923.5 L351 927.5 L355.8 927.5 L355.8 932.5 L378.9 932.5 L378.9 943.5 L466.25 943.5" stroke="#1b4475" stroke-width="1.35" fill="none" stroke-linejoin="round"/>
<path d="M225 910V913M304.4 919V922M316.9 919V922M341.9 922V925M349.4 922V925M352.5 926V929M357.5 931V934M359 931V934M361.25 931V934M366.25 931V934M404.4 942V945M445 942V945M453.1 942V945M456.9 942V945M458.1 942V945M461.9 942V945M463.75 942V945M465.6 942V945" stroke="#132f55" stroke-width="1.6" fill="none"/>
<rect x="0.5" y="0.5" width="519" height="1134" fill="none" stroke="#1a1a1a" stroke-width="1"/>
</svg></body></html>
